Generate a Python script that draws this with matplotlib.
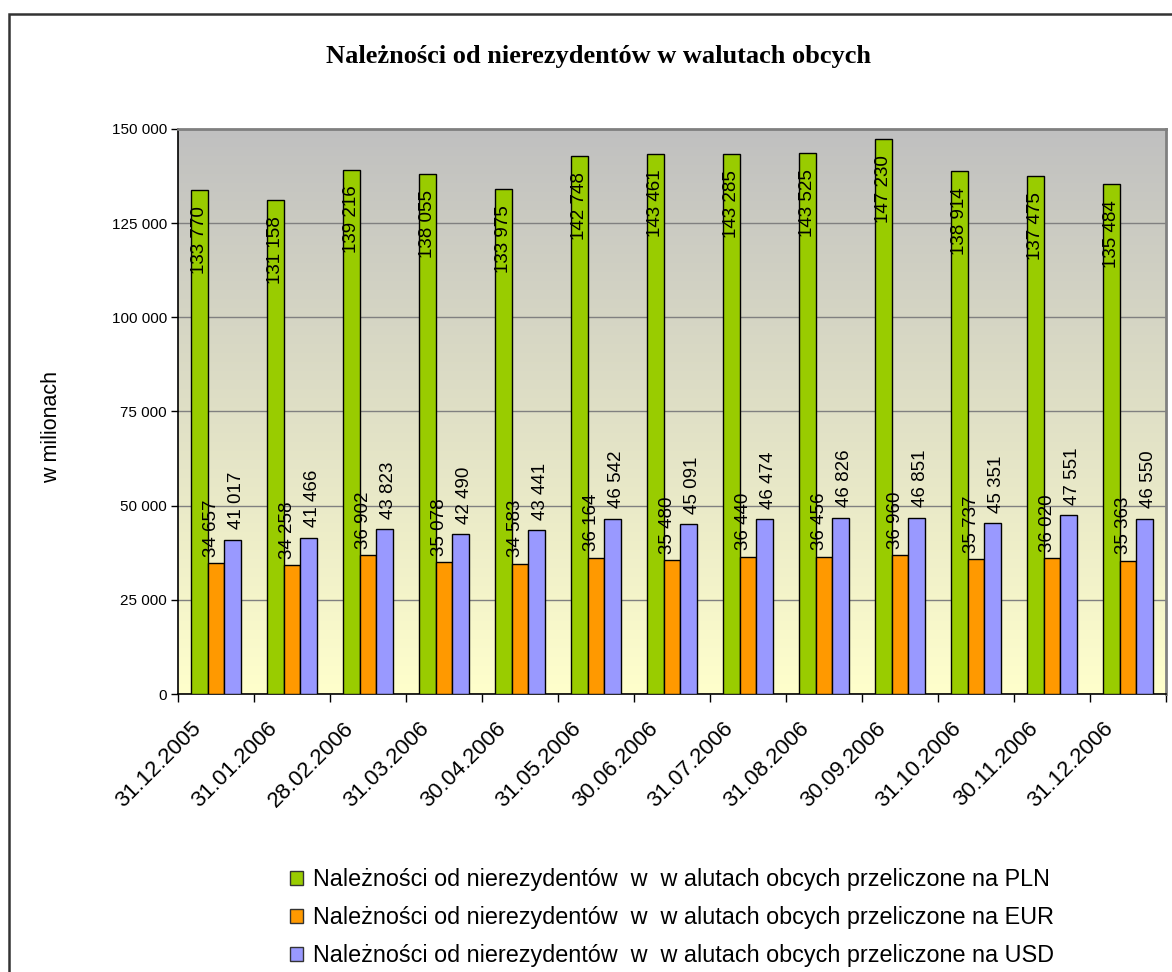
import matplotlib
matplotlib.use("Agg")
import matplotlib.pyplot as plt
import matplotlib.transforms as mtransforms
from matplotlib.patches import Patch, Rectangle
import numpy as np

plt.rcParams['font.family'] = ['Liberation Sans', 'DejaVu Sans']

# dane
dates = ["31.12.2005", "31.01.2006", "28.02.2006", "31.03.2006", "30.04.2006",
         "31.05.2006", "30.06.2006", "31.07.2006", "31.08.2006", "30.09.2006",
         "31.10.2006", "30.11.2006", "31.12.2006"]
pln = [133770, 131158, 139216, 138055, 133975, 142748, 143461,
       143285, 143525, 147230, 138914, 137475, 135484]
eur = [34657, 34258, 36902, 35078, 34583, 36164, 35480,
       36440, 36456, 36960, 35737, 36020, 35363]
usd = [41017, 41466, 43823, 42490, 43441, 46542, 45091,
       46474, 46826, 46851, 45351, 47551, 46550]

labels = ["Należności od nierezydentów  w  w alutach obcych przeliczone na PLN",
          "Należności od nierezydentów  w  w alutach obcych przeliczone na EUR",
          "Należności od nierezydentów  w  w alutach obcych przeliczone na USD"]
colors = ["#99CC00", "#FF9900", "#9999FF"]

def fmt(v):
    return f"{int(v):,}".replace(",", " ")

W, H = 1172, 972
fig = plt.figure(figsize=(W / 100, H / 100), dpi=100)
ax = fig.add_axes([178 / W, 1 - 694 / H, (1166 - 178) / W, (694 - 129) / H])

# tlo z gradientem
grad = np.linspace(0, 1, 256).reshape(-1, 1)
top = np.array([192, 192, 192]) / 255
bot = np.array([255, 255, 204]) / 255
img = top + (bot - top) * grad[:, :, None]
ax.imshow(img, extent=[0, 1, 0, 1], transform=ax.transAxes, aspect='auto', zorder=0)

x = np.arange(len(dates))
bw = 0.22
ax.bar(x - bw, pln, bw, color=colors[0], edgecolor='black', linewidth=1, zorder=3)
ax.bar(x, eur, bw, color=colors[1], edgecolor='black', linewidth=1, zorder=3)
ax.bar(x + bw, usd, bw, color=colors[2], edgecolor='black', linewidth=1, zorder=3)

# etykiety danych
for i in range(len(dates)):
    ax.annotate(fmt(pln[i]), (x[i] - bw, pln[i]), xytext=(0, -50), textcoords='offset pixels',
                rotation=90, ha='center', va='center', fontsize=13.5, zorder=5)
    ax.annotate(fmt(eur[i]), (x[i], eur[i]), xytext=(-5, 35), textcoords='offset pixels',
                rotation=90, ha='center', va='center', fontsize=13.5, zorder=5)
    ax.annotate(fmt(usd[i]), (x[i] + bw, usd[i]), xytext=(4, 39), textcoords='offset pixels',
                rotation=90, ha='center', va='center', fontsize=13.5, zorder=5)

ax.set_xlim(-0.5, len(dates) - 0.5)
ax.set_ylim(0, 150000)
ax.set_yticks(np.arange(0, 150001, 25000))
ax.set_yticklabels([fmt(v) for v in np.arange(0, 150001, 25000)], fontsize=11)
ax.yaxis.grid(True, color='#808080', linewidth=1, zorder=1)
ax.set_axisbelow(True)

ax.set_xticks(x)
ax.set_xticklabels([])
ax.set_xticks(np.arange(-0.5, len(dates), 1), minor=True)
ax.tick_params(axis='x', which='major', length=0)
ax.tick_params(axis='x', which='minor', length=6, width=1, direction='out')
ax.tick_params(axis='y', length=5, width=1, direction='out', pad=3)

off = mtransforms.ScaledTranslation(-25 / 100, -24 / 100, fig.dpi_scale_trans)
for i, d in enumerate(dates):
    ax.text(x[i], 0, d, rotation=45, ha='right', va='top', rotation_mode='anchor',
            fontsize=16, transform=ax.transData + off, clip_on=False)

for s in ['left', 'bottom']:
    ax.spines[s].set_color('black')
    ax.spines[s].set_linewidth(1.2)
for s in ['top', 'right']:
    ax.spines[s].set_color('#808080')
    ax.spines[s].set_linewidth(2)

fig.text(52 / W, 1 - 427 / H, "w milionach", rotation=90, ha='center', va='center', fontsize=15.5)
fig.text(598 / W, 1 - 57 / H, "Należności od nierezydentów w walutach obcych",
         ha='center', va='center', fontsize=19, fontweight='bold', family='Liberation Serif')

# ramka calego wykresu
fig.patches.append(Rectangle((9 / W, -0.05), 1.0, 1 - 14 / H + 0.05, transform=fig.transFigure,
                             fill=False, edgecolor='#333333', linewidth=1.8))

handles = [Patch(facecolor=c, edgecolor='#333333', linewidth=1) for c in colors]
fig.legend(handles, labels, loc='upper left', bbox_to_anchor=(290 / W, 1 - 868 / H),
           frameon=False, fontsize=16.8, handlelength=0.55, handleheight=0.55,
           handletextpad=0.45, labelspacing=0.64, borderpad=0, borderaxespad=0)

fig.savefig("out.png", dpi=100)
